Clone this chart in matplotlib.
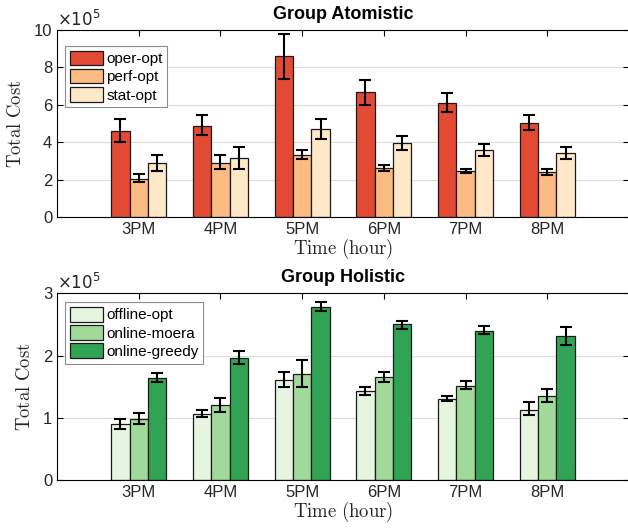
import numpy as np
import matplotlib
matplotlib.use("Agg")
import matplotlib.pyplot as plt

plt.rcParams['font.family'] = ['Liberation Sans', 'DejaVu Sans']

hours = ['3PM', '4PM', '5PM', '6PM', '7PM', '8PM']

# Group Atomistic (x1e5)
atom_names = ['oper-opt', 'perf-opt', 'stat-opt']
atom_colors = ['#e34a33', '#fdbb84', '#fee8c8']
oper_opt = [4.60, 4.90, 8.60, 6.67, 6.12, 5.05]
oper_lo = [4.00, 4.40, 7.40, 6.00, 5.60, 4.64]
oper_hi = [5.25, 5.45, 9.80, 7.35, 6.65, 5.48]
perf_opt = [2.07, 2.90, 3.35, 2.63, 2.46, 2.43]
perf_lo = [1.90, 2.60, 3.10, 2.49, 2.37, 2.27]
perf_hi = [2.30, 3.30, 3.60, 2.79, 2.58, 2.58]
stat_opt = [2.90, 3.15, 4.70, 3.98, 3.59, 3.42]
stat_lo = [2.45, 2.60, 4.16, 3.61, 3.26, 3.11]
stat_hi = [3.35, 3.75, 5.26, 4.34, 3.93, 3.74]

# Group Holistic (x1e5)
hol_names = ['offline-opt', 'online-moera', 'online-greedy']
hol_colors = ['#e5f5e0', '#a1d99b', '#31a354']
offline_opt = [0.90, 1.07, 1.61, 1.43, 1.31, 1.13]
offline_lo = [0.82, 1.02, 1.50, 1.37, 1.27, 1.04]
offline_hi = [0.98, 1.13, 1.73, 1.49, 1.35, 1.25]
online_moera = [0.99, 1.21, 1.71, 1.65, 1.52, 1.36]
moera_lo = [0.90, 1.10, 1.50, 1.57, 1.47, 1.26]
moera_hi = [1.08, 1.32, 1.93, 1.74, 1.59, 1.47]
online_greedy = [1.64, 1.96, 2.78, 2.50, 2.40, 2.32]
greedy_lo = [1.58, 1.86, 2.71, 2.43, 2.34, 2.17]
greedy_hi = [1.72, 2.07, 2.86, 2.56, 2.47, 2.46]


def grouped(ax, series, names, colors, title, yticks, leg_top):
    x = np.arange(1, len(hours) + 1)
    w = 0.225
    for i, (vals, lo, hi) in enumerate(series):
        vals = np.array(vals)
        err = [vals - np.array(lo), np.array(hi) - vals]
        pos = x + (i - 1) * w
        ax.bar(pos, vals, w, color=colors[i], edgecolor='#1a1a1a', linewidth=0.9,
               label=names[i], zorder=2)
        ax.errorbar(pos, vals, yerr=err, fmt='none', ecolor='black',
                    elinewidth=1.5, capsize=4, capthick=1.5, zorder=3)
    ax.set_xlim(0, 7)
    ax.set_ylim(yticks[0], yticks[-1])
    ax.set_xticks(x)
    ax.set_xticklabels(hours)
    ax.set_yticks(yticks)
    ax.tick_params(labelsize=12, labelcolor='#262626')
    ax.tick_params(direction='in', top=True, right=True, length=4, width=0.8)
    ax.yaxis.grid(True, color='#dcdcdc', linewidth=0.8, zorder=0)
    ax.set_axisbelow(True)
    for s in ax.spines.values():
        s.set_linewidth(0.8)
    ax.set_title(title, fontsize=13, fontweight='bold', pad=8)
    ax.set_ylabel(r'$\mathrm{Total\ Cost}$', math_fontfamily='cm', fontsize=13.5,
                  labelpad=6, color='#262626')
    ax.set_xlabel(r'$\mathrm{Time\ (hour)}$', math_fontfamily='cm', fontsize=13.5,
                  labelpad=0, color='#262626')
    ax.text(0.0, 1.008, r'$\times10^{5}$', transform=ax.transAxes, fontsize=12,
            math_fontfamily='dejavusans', color='#262626', va='bottom', ha='left')
    leg = ax.legend(loc='upper left', bbox_to_anchor=(0.014, leg_top), fontsize=11,
                    fancybox=False, framealpha=1, edgecolor='#8c8c8c',
                    handlelength=2.2, handleheight=1.1, labelspacing=0.18,
                    borderpad=0.3, handletextpad=0.2, borderaxespad=0.0)
    leg.get_frame().set_linewidth(0.8)


fig = plt.figure(figsize=(6.28, 5.28), dpi=100)
ax1 = fig.add_axes([57 / 628, 1 - 217.3 / 528, 572 / 628, 187.3 / 528])
ax2 = fig.add_axes([57 / 628, 1 - 480.3 / 528, 572 / 628, 187.0 / 528])

grouped(ax1, [(oper_opt, oper_lo, oper_hi), (perf_opt, perf_lo, perf_hi),
              (stat_opt, stat_lo, stat_hi)],
        atom_names, atom_colors, 'Group Atomistic', [0, 2, 4, 6, 8, 10], 0.915)
grouped(ax2, [(offline_opt, offline_lo, offline_hi), (online_moera, moera_lo, moera_hi),
              (online_greedy, greedy_lo, greedy_hi)],
        hol_names, hol_colors, 'Group Holistic', [0, 1, 2, 3], 0.952)

fig.savefig('out.png', dpi=100)
